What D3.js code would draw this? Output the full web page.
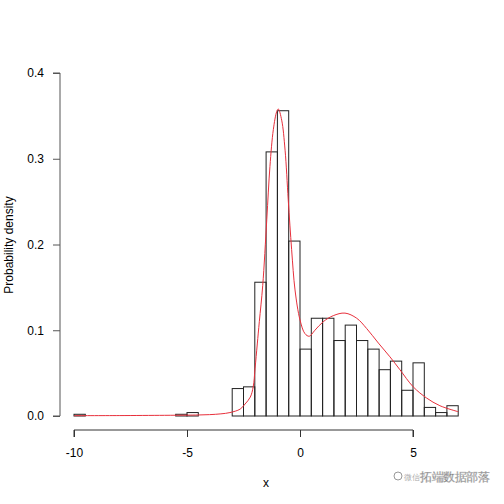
<!DOCTYPE html>
<html>
<head>
<meta charset="utf-8">
<script src="https://cdn.jsdelivr.net/npm/d3@7"></script>
<style>
  html, body { margin: 0; padding: 0; background: #fff; }
  svg { display: block; }
  text { font-family: "Liberation Sans", Arial, sans-serif; }
</style>
</head>
<body>
<svg id="chart" width="504" height="504"></svg>
<script>
// Histogram bins: lower edge and density (bin width 0.5)
const binStarts = [-10, -9.5, -9, -8.5, -8, -7.5, -7, -6.5, -6, -5.5, -5, -4.5, -4, -3.5,
  -3, -2.5, -2, -1.5, -1, -0.5, 0, 0.5, 1, 1.5, 2, 2.5, 3, 3.5, 4, 4.5, 5, 5.5, 6, 6.5];
const binDensity = [0.002, 0, 0, 0, 0, 0, 0, 0, 0, 0.002, 0.004, 0, 0, 0,
  0.032, 0.034, 0.156, 0.308, 0.356, 0.204, 0.078, 0.114, 0.114, 0.088, 0.106, 0.088,
  0.078, 0.054, 0.064, 0.030, 0.062, 0.010, 0.004, 0.012];
const binWidth = 0.5;

// Density curve points
const densX = [-10, -8, -6, -5, -4.5, -4, -3.5, -3.1, -2.65, -2.43, -2.2, -2.07, -1.99, -1.89,
  -1.8, -1.65, -1.47, -1.33, -1.18, -1.03, -0.96, -0.81, -0.66, -0.52, -0.37, -0.22, 0,
  0.22, 0.41, 0.66, 1.03, 1.47, 1.99, 2.51, 2.95, 3.47, 3.98, 4.42, 5.01, 5.6, 6.19, 7.0];
const densY = [0.0004, 0.0005, 0.0008, 0.001, 0.0012, 0.0016, 0.0025, 0.004, 0.008, 0.014,
  0.022, 0.034, 0.055, 0.084, 0.11, 0.152, 0.229, 0.291, 0.334, 0.355, 0.358, 0.345, 0.310,
  0.252, 0.194, 0.147, 0.112, 0.096, 0.093, 0.100, 0.110, 0.117, 0.120, 0.114, 0.102,
  0.085, 0.069, 0.054, 0.034, 0.021, 0.012, 0.005];

const xTicks = [-10, -5, 0, 5];
const yTicks = [0.0, 0.1, 0.2, 0.3, 0.4];
const xTitle = "x";
const yTitle = "Probability density";
const watermark = "拓端数据部落";

const svg = d3.select("#chart");
const x = d3.scaleLinear().domain([-10, 5]).range([74, 413]);
const y = d3.scaleLinear().domain([0, 0.4]).range([416, 73]);

// histogram bars
svg.append("g").selectAll("rect")
  .data(binStarts.map((s, i) => ({ s, d: binDensity[i] })))
  .join("rect")
  .attr("x", d => x(d.s))
  .attr("width", d => x(d.s + binWidth) - x(d.s))
  .attr("y", d => y(d.d))
  .attr("height", d => y(0) - y(d.d))
  .attr("fill", "none")
  .attr("stroke", "#222")
  .attr("stroke-width", 1);

// density curve
const line = d3.line()
  .x((d, i) => x(densX[i]))
  .y((d, i) => y(densY[i]))
  .curve(d3.curveCatmullRom.alpha(0.5));
svg.append("path")
  .datum(densY)
  .attr("d", line)
  .attr("fill", "none")
  .attr("stroke", "#e8303c")
  .attr("stroke-width", 1);

// x axis
const xAxis = svg.append("g")
  .attr("transform", "translate(0,430)")
  .call(d3.axisBottom(x).tickValues(xTicks).tickSize(7).tickPadding(11)
        .tickFormat(d3.format("d")));
xAxis.select(".domain").attr("d", `M${x(-10)},7V0H${x(5)}V7`).attr("stroke", "#333");
xAxis.selectAll(".tick line").attr("stroke", "#333");
xAxis.selectAll("text").attr("font-size", 12).attr("fill", "#000")
  .attr("font-family", "Liberation Sans, Arial, sans-serif")
  .text(d => d < 0 ? "-" + Math.abs(d) : d);

// y axis
const yAxis = svg.append("g")
  .attr("transform", "translate(60,0)")
  .call(d3.axisLeft(y).tickValues(yTicks).tickSize(7).tickPadding(9)
        .tickFormat(d3.format(".1f")));
yAxis.select(".domain").attr("d", `M-7,${y(0.4)}H0V${y(0)}H-7`).attr("stroke", "#555");
yAxis.selectAll(".tick line").attr("stroke", "#555");
yAxis.selectAll("text").attr("font-size", 12).attr("fill", "#000")
  .attr("font-family", "Liberation Sans, Arial, sans-serif");

// titles
svg.append("text").attr("x", 266).attr("y", 487).attr("text-anchor", "middle")
  .attr("font-size", 12).text(xTitle);
svg.append("text").attr("transform", "translate(13,245) rotate(-90)")
  .attr("text-anchor", "middle").attr("font-size", 12).text(yTitle);

// watermark
svg.append("circle").attr("cx", 398).attr("cy", 476).attr("r", 4)
  .attr("fill", "none").attr("stroke", "#999").attr("stroke-width", 1);
svg.append("text").attr("x", 404).attr("y", 480).attr("font-size", 8)
  .attr("font-family", "Noto Sans CJK SC").attr("fill", "#aaa").text("微信");
svg.append("text").attr("x", 420).attr("y", 481).attr("font-size", 12)
  .attr("font-family", "Noto Sans CJK SC").attr("fill", "#555")
  .attr("stroke", "#ccc").attr("stroke-width", 0.4)
  .attr("textLength", 70).text(watermark);
</script>
</body>
</html>
